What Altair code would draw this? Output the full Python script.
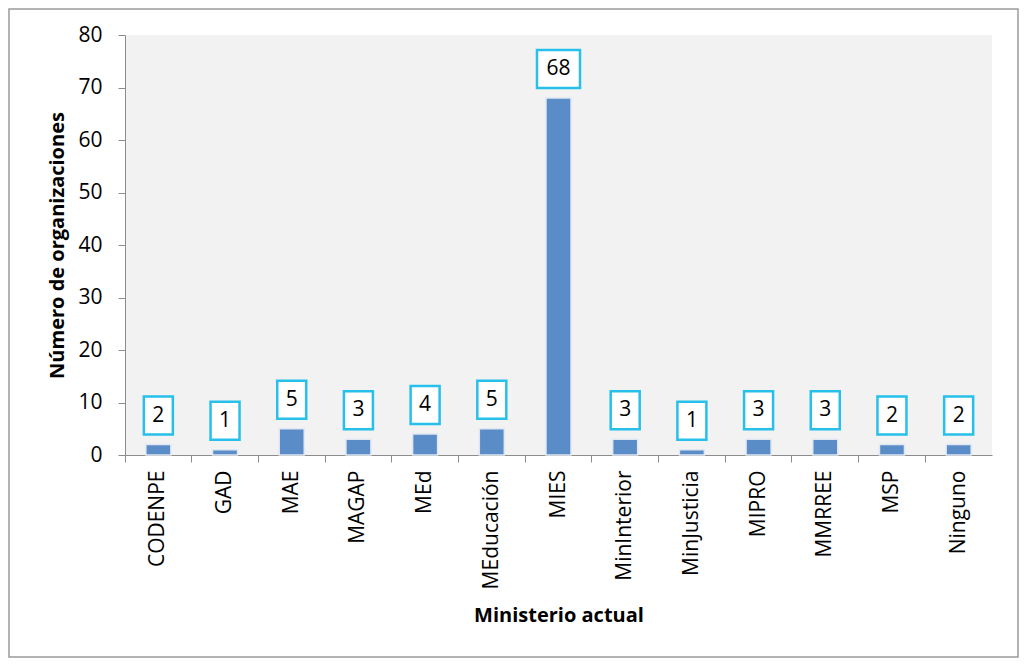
import altair as alt
import pandas as pd

categories = ["CODENPE", "GAD", "MAE", "MAGAP", "MEd", "MEducación", "MIES",
              "MinInterior", "MinJusticia", "MIPRO", "MMRREE", "MSP", "Ninguno"]
values = [2, 1, 5, 3, 4, 5, 68, 3, 1, 3, 3, 2, 2]

df = pd.DataFrame({"cat": categories, "v": values})

W, H = 867, 420
PL, PT = 117, 27
PR, PB = 1011 - PL - W, 650 - PT - H
FONT = "Open Sans"

x = alt.X("cat:N", sort=categories, title="Ministerio actual",
          scale=alt.Scale(paddingInner=0, paddingOuter=0),
          axis=alt.Axis(labelAngle=-90, labelFontSize=21, labelFont=FONT, labelColor="black",
                        labelPadding=8, labelAlign="right", labelBaseline="middle",
                        tickSize=7, tickColor="#8c8c8c", domainColor="#8c8c8c",
                        bandPosition=0, titleFontSize=20, titleFont=FONT, titleFontWeight="bold",
                        titleColor="black", titleY=160, titleBaseline="middle"))
y = alt.Y("v:Q", title="Número de organizaciones",
          scale=alt.Scale(domain=[0, 80]),
          axis=alt.Axis(values=list(range(0, 81, 10)), grid=False, labelFontSize=21, labelFont=FONT,
                        labelColor="black", labelPadding=16, tickSize=7, tickColor="#8c8c8c",
                        domainColor="#8c8c8c", titleFontSize=20, titleFont=FONT,
                        titleFontWeight="bold", titleColor="black", titlePadding=10))

base = alt.Chart(df)

bars = base.mark_bar(width=25, color="#5a8dc8", stroke="#dfe7f2", strokeWidth=1.5).encode(x=x, y=y)

boxes = base.transform_calculate(
    w="length(toString(datum.v)) * 14 + 15"
).mark_bar(fill="white", stroke="#27c0ea", strokeWidth=2.5,
           yOffset=-10, y2Offset=-48).encode(
    x=x, y=y, y2=alt.Y2("v:Q"), size=alt.Size("w:Q", scale=None, legend=None))

labels = base.mark_text(fontSize=21, font=FONT, color="black", baseline="middle",
                        align="center", dy=-29).encode(x=x, y=y, text="v:Q")

border = alt.Chart(pd.DataFrame({"a": [0]})).mark_rect(
    fill=None, stroke="#9a9a9a", strokeWidth=1.5, clip=False).encode(
    x=alt.value(-PL + 1), x2=alt.value(W + PR - 1),
    y=alt.value(-PT + 1), y2=alt.value(H + PB - 1))

chart = alt.layer(bars, boxes, labels, border).properties(
    width=W, height=H,
    autosize=alt.AutoSizeParams(type="none"),
    padding={"left": PL, "top": PT, "right": PR, "bottom": PB},
    background="white",
).configure_view(fill="#f2f2f2", stroke=None)

chart.save("out.html", embed_options={"renderer": "svg", "actions": False})
